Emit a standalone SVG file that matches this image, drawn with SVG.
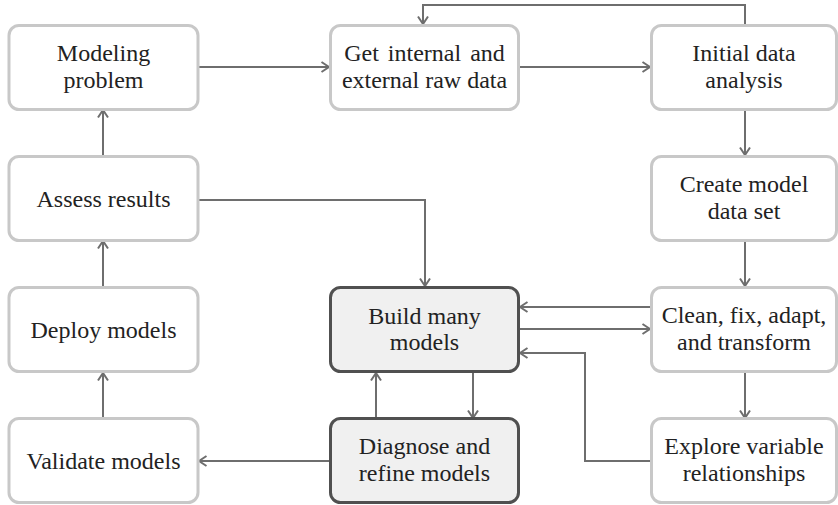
<svg xmlns="http://www.w3.org/2000/svg" width="838" height="505" viewBox="0 0 838 505">
<defs>
<style>
.box{fill:#ffffff;stroke:#c8c8c8;stroke-width:3}
.dark{fill:#f0f0f0;stroke:#505050;stroke-width:3}
.t text{font-size:24px;fill:#222;text-anchor:middle}
.c{fill:none;stroke:#6e6e6e;stroke-width:2;marker-end:url(#a)}
</style>
<marker id="a" viewBox="0 0 10 12" refX="9" refY="6" markerWidth="10" markerHeight="12" markerUnits="userSpaceOnUse" orient="auto">
<path d="M1.5,1 L9,6 L1.5,11" fill="none" stroke="#6e6e6e" stroke-width="2"/>
</marker>
</defs>
<rect width="838" height="505" fill="#ffffff"/>
<g id="connectors">
<path class="c" d="M199,67 H329"/>
<path class="c" d="M520,67 H650"/>
<path class="c" d="M745,25 V5 H423 V24"/>
<path class="c" d="M745,110 V155"/>
<path class="c" d="M745,241 V286"/>
<path class="c" d="M650,307 H520"/>
<path class="c" d="M520,329 H650"/>
<path class="c" d="M650,461 H585 V353 H520"/>
<path class="c" d="M745,373 V418"/>
<path class="c" d="M473,373 V418"/>
<path class="c" d="M376,418 V373"/>
<path class="c" d="M199,200 H425 V286"/>
<path class="c" d="M329,461 H199"/>
<path class="c" d="M103,418 V373"/>
<path class="c" d="M103,286 V241"/>
<path class="c" d="M103,155 V110"/>
</g>
<g class="t" font-family="'Liberation Serif', 'Times New Roman', serif">
<g id="modeling-problem">
<rect class="box" x="9" y="25.5" width="189" height="84" rx="10"/>
<text x="103.5" y="61">Modeling</text>
<text x="103.5" y="87.5">problem</text>
</g>
<g id="get-data">
<rect class="box" x="330.5" y="25.5" width="188" height="84" rx="10"/>
<text x="424.5" y="61" word-spacing="3">Get internal and</text>
<text x="424.5" y="87.5">external raw data</text>
</g>
<g id="initial-analysis">
<rect class="box" x="651.5" y="25.5" width="185" height="84" rx="10"/>
<text x="744" y="61">Initial data</text>
<text x="744" y="87.5">analysis</text>
</g>
<g id="assess-results">
<rect class="box" x="9" y="156.5" width="189" height="84" rx="10"/>
<text x="103.5" y="207">Assess results</text>
</g>
<g id="create-model-data">
<rect class="box" x="651.5" y="156.5" width="185" height="84" rx="10"/>
<text x="744" y="192">Create model</text>
<text x="744" y="218.5">data set</text>
</g>
<g id="deploy-models">
<rect class="box" x="9" y="287.5" width="189" height="84" rx="10"/>
<text x="103.5" y="338">Deploy models</text>
</g>
<g id="build-many-models">
<rect class="dark" x="330.5" y="287.5" width="188" height="84" rx="10"/>
<text x="424.5" y="324">Build many</text>
<text x="424.5" y="350">models</text>
</g>
<g id="clean-fix">
<rect class="box" x="651.5" y="287.5" width="185" height="84" rx="10"/>
<text x="744" y="323">Clean, fix, adapt,</text>
<text x="744" y="349.5">and transform</text>
</g>
<g id="validate-models">
<rect class="box" x="9" y="418.5" width="189" height="84" rx="10"/>
<text x="103.5" y="469">Validate models</text>
</g>
<g id="diagnose-refine">
<rect class="dark" x="330.5" y="418.5" width="188" height="84" rx="10"/>
<text x="424.5" y="454">Diagnose and</text>
<text x="424.5" y="480.5">refine models</text>
</g>
<g id="explore-variables">
<rect class="box" x="651.5" y="418.5" width="185" height="84" rx="10"/>
<text x="744" y="454">Explore variable</text>
<text x="744" y="480.5">relationships</text>
</g>
</g>
</svg>
